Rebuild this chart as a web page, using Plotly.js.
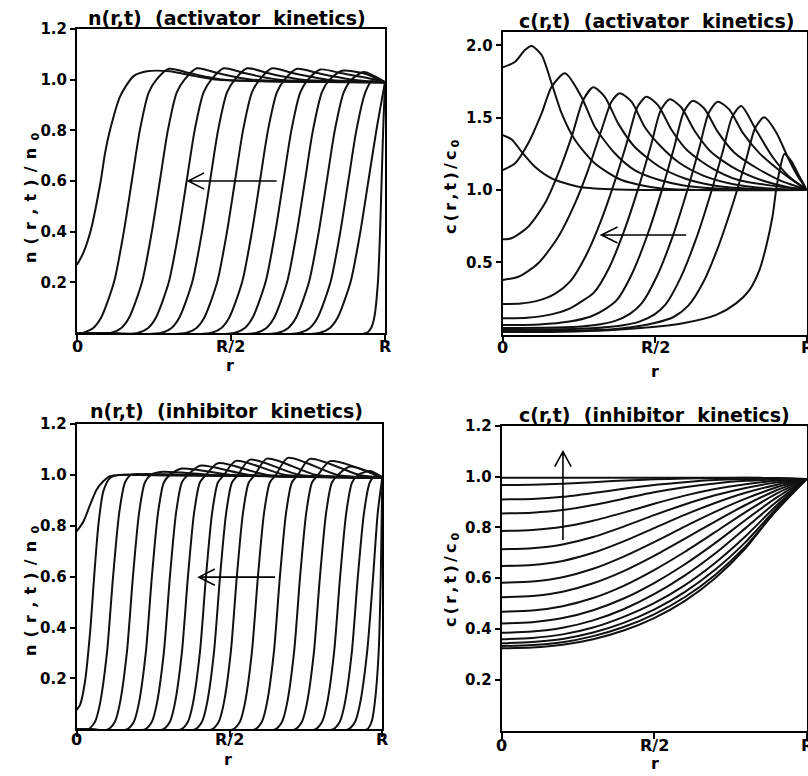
<!DOCTYPE html>
<html><head><meta charset="utf-8">
<script src="https://cdn.plot.ly/plotly-3.0.1.min.js"></script>
<style>html,body{margin:0;padding:0;background:#fff}#chart{width:808px;height:776px}</style>
</head><body><div id="chart"></div>
<script>
// ---------- data (r in units of R) ----------
const X_TICKVALS = [0, 0.5, 1];
const X_TICKTEXT = ['0', 'R/2', 'R'];

// Panel 1: n(r,t) activator kinetics
const nActFirstR = [0, 0.02, 0.045, 0.077, 0.091, 0.107, 0.140, 0.183, 0.227, 0.30, 0.38, 0.46];
const nActFirstV = [0.269, 0.315, 0.407, 0.6, 0.71, 0.80, 0.934, 1.013, 1.033, 1.033, 1.015, 1.0];
const nActLevels = [0, 0.02, 0.06, 0.2, 0.4, 0.6, 0.8, 0.95, 1.0, 1.04, 1.025, 1.0];
const nActFronts = [
  [0.018, 0.053, 0.078, 0.120, 0.152, 0.178, 0.204, 0.233, 0.258, 0.298, 0.368, 0.478],
  [0.109, 0.144, 0.169, 0.211, 0.243, 0.269, 0.295, 0.324, 0.349, 0.389, 0.459, 0.569],
  [0.196, 0.231, 0.256, 0.298, 0.330, 0.356, 0.382, 0.411, 0.436, 0.476, 0.546, 0.656],
  [0.272, 0.307, 0.332, 0.374, 0.406, 0.432, 0.458, 0.487, 0.512, 0.552, 0.622, 0.732],
  [0.353, 0.388, 0.413, 0.455, 0.487, 0.513, 0.539, 0.568, 0.593, 0.633, 0.703, 0.813],
  [0.434, 0.469, 0.494, 0.536, 0.568, 0.594, 0.620, 0.649, 0.674, 0.714, 0.784, 0.894],
  [0.510, 0.545, 0.570, 0.612, 0.644, 0.670, 0.696, 0.725, 0.750, 0.790, 0.860, 0.970],
  [0.580, 0.615, 0.640, 0.682, 0.714, 0.740, 0.766, 0.795, 0.820, 0.860, 0.930],
  [0.651, 0.686, 0.711, 0.753, 0.785, 0.811, 0.837, 0.866, 0.891, 0.931],
  [0.721, 0.756, 0.781, 0.823, 0.855, 0.881, 0.907, 0.936, 0.961],
  [0.786, 0.821, 0.846, 0.888, 0.920, 0.946, 0.972],
  [0.940, 0.955, 0.965, 0.977, 0.984, 0.989, 0.994]
];
const nActPeaks = [1.043, 1.045, 1.045, 1.045, 1.045, 1.043, 1.04, 1.035, 1.03, 1.0, 1.0, 1.0];

// Panel 2: c(r,t) activator kinetics, [r, c/c0] pairs per curve
const cActCurves = [
  [[0,1.38],[0.03,1.35],[0.062,1.265],[0.106,1.161],[0.161,1.081],[0.249,1.023],[0.358,1.005],[0.5,1.0],[1,1.0]],
  [[0,1.848],[0.041,1.887],[0.073,1.968],[0.095,1.996],[0.128,1.934],[0.161,1.738],[0.194,1.530],[0.238,1.346],[0.303,1.185],[0.391,1.069],[0.516,1.012],[0.65,1.0],[1,1.0]],
  [[0,1.138],[0.041,1.185],[0.084,1.323],[0.128,1.530],[0.161,1.714],[0.205,1.807],[0.259,1.645],[0.303,1.438],[0.369,1.254],[0.434,1.138],[0.516,1.069],[0.6,1.03],[0.75,1.005],[1,1.0]],
  [[0,0.659],[0.029,0.666],[0.084,0.746],[0.139,0.908],[0.183,1.115],[0.227,1.369],[0.265,1.622],[0.298,1.710],[0.336,1.645],[0.380,1.461],[0.434,1.299],[0.516,1.161],[0.6,1.08],[0.7,1.03],[0.85,1.005],[1,1.0]],
  [[0,0.378],[0.052,0.40],[0.117,0.493],[0.183,0.677],[0.238,0.908],[0.281,1.138],[0.325,1.415],[0.358,1.611],[0.385,1.669],[0.424,1.611],[0.467,1.438],[0.516,1.311],[0.58,1.19],[0.66,1.1],[0.76,1.04],[0.88,1.01],[1,1.0]],
  [[0,0.212],[0.06,0.215],[0.113,0.233],[0.173,0.284],[0.223,0.370],[0.273,0.542],[0.323,0.785],[0.373,1.086],[0.413,1.358],[0.443,1.573],[0.473,1.645],[0.511,1.587],[0.555,1.419],[0.609,1.271],[0.691,1.148],[0.773,1.071],[0.923,1.02],[1,1.005]],
  [[0,0.113],[0.08,0.117],[0.16,0.14],[0.22,0.18],[0.26,0.23],[0.30,0.29],[0.35,0.461],[0.40,0.719],[0.45,1.037],[0.49,1.324],[0.52,1.551],[0.550,1.627],[0.588,1.571],[0.632,1.408],[0.686,1.263],[0.768,1.144],[0.85,1.069],[0.94,1.02],[1,1.005]],
  [[0,0.066],[0.12,0.07],[0.22,0.09],[0.29,0.125],[0.34,0.18],[0.376,0.24],[0.426,0.423],[0.476,0.687],[0.526,1.013],[0.566,1.308],[0.596,1.540],[0.626,1.618],[0.664,1.562],[0.708,1.402],[0.762,1.26],[0.844,1.142],[0.92,1.06],[1,1.005]],
  [[0,0.045],[0.2,0.05],[0.3,0.065],[0.37,0.095],[0.42,0.145],[0.458,0.217],[0.508,0.405],[0.558,0.671],[0.608,1.0],[0.648,1.298],[0.678,1.533],[0.708,1.611],[0.746,1.556],[0.79,1.397],[0.844,1.257],[0.92,1.12],[0.96,1.06],[1,1.005]],
  [[0,0.035],[0.25,0.04],[0.38,0.06],[0.45,0.09],[0.50,0.14],[0.535,0.205],[0.585,0.391],[0.635,0.653],[0.685,0.978],[0.725,1.272],[0.755,1.504],[0.785,1.581],[0.834,1.415],[0.888,1.23],[0.943,1.092],[1,1.005]],
  [[0,0.025],[0.35,0.035],[0.45,0.06],[0.50,0.08],[0.561,0.12],[0.611,0.2],[0.661,0.365],[0.711,0.616],[0.761,0.927],[0.801,1.207],[0.831,1.429],[0.861,1.503],[0.9,1.4],[0.94,1.22],[0.97,1.1],[1,1.005]],
  [[0,0.018],[0.2,0.02],[0.35,0.03],[0.484,0.05],[0.593,0.078],[0.703,0.136],[0.768,0.216],[0.812,0.308],[0.845,0.446],[0.867,0.608],[0.888,0.815],[0.9,1.0],[0.915,1.17],[0.927,1.249],[0.95,1.2],[0.975,1.1],[1,1.005]]
];

// Panel 3: n(r,t) inhibitor kinetics
const nInhFirstR = [0, 0.022, 0.044, 0.065, 0.087, 0.109, 0.142, 0.2];
const nInhFirstV = [0.778, 0.817, 0.883, 0.942, 0.975, 0.995, 1.0, 1.0];
const nInhSecondR = [0, 0.011, 0.027, 0.044, 0.057, 0.071, 0.087, 0.109, 0.142, 0.2];
const nInhSecondV = [0.076, 0.096, 0.186, 0.384, 0.598, 0.804, 0.935, 0.988, 1.0, 1.0];
const nInhLevels = [0, 0.03, 0.1, 0.3, 0.6, 0.85, 0.97, 1.0, 1.0, 1.0];
const nInhFronts = [
  [0.037, 0.060, 0.076, 0.099, 0.119, 0.139, 0.158, 0.178, 0.217, 0.379],
  [0.102, 0.125, 0.141, 0.164, 0.184, 0.204, 0.223, 0.243, 0.282, 0.444],
  [0.164, 0.187, 0.203, 0.226, 0.246, 0.266, 0.285, 0.305, 0.344, 0.506],
  [0.223, 0.246, 0.262, 0.285, 0.305, 0.325, 0.344, 0.364, 0.403, 0.565],
  [0.282, 0.305, 0.321, 0.344, 0.364, 0.384, 0.403, 0.423, 0.462, 0.624],
  [0.341, 0.364, 0.380, 0.403, 0.423, 0.443, 0.462, 0.482, 0.521, 0.683],
  [0.387, 0.410, 0.426, 0.449, 0.469, 0.489, 0.508, 0.528, 0.567, 0.729],
  [0.442, 0.465, 0.481, 0.504, 0.524, 0.544, 0.563, 0.583, 0.622, 0.784],
  [0.511, 0.534, 0.550, 0.573, 0.593, 0.613, 0.632, 0.652, 0.691, 0.853],
  [0.583, 0.606, 0.622, 0.645, 0.665, 0.685, 0.704, 0.724, 0.763, 0.925],
  [0.649, 0.672, 0.688, 0.711, 0.731, 0.751, 0.770, 0.790, 0.829],
  [0.714, 0.737, 0.753, 0.776, 0.796, 0.816, 0.835, 0.855, 0.894],
  [0.780, 0.803, 0.819, 0.842, 0.862, 0.882, 0.901, 0.921, 0.960],
  [0.838, 0.861, 0.877, 0.900, 0.920, 0.940, 0.959, 0.979],
  [0.888, 0.911, 0.927, 0.950, 0.970, 0.985],
  [0.950, 0.965, 0.975, 0.988, 0.995]
];
const nInhPeaks = [1.003, 1.012, 1.025, 1.036, 1.046, 1.055, 1.06, 1.064, 1.067, 1.063, 1.054, 1.033, 1.015, 1.0, 1.0, 1.0];

// Panel 4: c(r,t) inhibitor kinetics, values on a common r grid
const cInhGrid = [0, 0.1, 0.2, 0.3, 0.4, 0.5, 0.6, 0.7, 0.8, 0.9, 1.0];
const cInhCurves = [
  [0.995, 0.995, 0.995, 0.995, 0.995, 0.995, 0.995, 0.995, 0.995, 0.993, 0.99],
  [0.967, 0.968, 0.972, 0.978, 0.984, 0.989, 0.992, 0.994, 0.995, 0.994, 0.99],
  [0.910, 0.912, 0.920, 0.935, 0.952, 0.967, 0.978, 0.986, 0.990, 0.992, 0.99],
  [0.855, 0.858, 0.868, 0.888, 0.913, 0.938, 0.958, 0.973, 0.983, 0.988, 0.99],
  [0.786, 0.790, 0.802, 0.826, 0.858, 0.893, 0.925, 0.951, 0.970, 0.983, 0.99],
  [0.714, 0.718, 0.733, 0.762, 0.803, 0.848, 0.890, 0.926, 0.955, 0.976, 0.99],
  [0.648, 0.652, 0.668, 0.700, 0.745, 0.797, 0.849, 0.896, 0.936, 0.967, 0.99],
  [0.582, 0.587, 0.604, 0.637, 0.685, 0.742, 0.803, 0.861, 0.913, 0.957, 0.99],
  [0.525, 0.530, 0.547, 0.580, 0.628, 0.688, 0.755, 0.823, 0.888, 0.945, 0.99],
  [0.468, 0.473, 0.490, 0.522, 0.570, 0.632, 0.703, 0.781, 0.860, 0.932, 0.99],
  [0.422, 0.427, 0.443, 0.474, 0.520, 0.581, 0.654, 0.738, 0.829, 0.916, 0.99],
  [0.385, 0.390, 0.405, 0.434, 0.478, 0.537, 0.610, 0.697, 0.797, 0.899, 0.99],
  [0.360, 0.365, 0.379, 0.406, 0.448, 0.502, 0.572, 0.660, 0.765, 0.884, 0.99],
  [0.344, 0.349, 0.361, 0.386, 0.424, 0.476, 0.545, 0.633, 0.742, 0.872, 0.99],
  [0.333, 0.337, 0.348, 0.372, 0.408, 0.458, 0.525, 0.613, 0.725, 0.864, 0.99],
  [0.324, 0.327, 0.338, 0.360, 0.394, 0.443, 0.510, 0.600, 0.718, 0.868, 0.99]
];

// ---------- build traces ----------
const LINE = {color: '#111', width: 2, shape: 'spline', smoothing: 0.7};
const traces = [];
function add(x, y, ax) {
  traces.push({x: x, y: y, type: 'scatter', mode: 'lines', line: LINE,
    xaxis: 'x' + ax, yaxis: 'y' + ax, hoverinfo: 'skip', showlegend: false});
}
function addFronts(fronts, levels, peaks, peakIdx, ax) {
  fronts.forEach((rs, i) => {
    const lv = levels.slice(0, rs.length);
    if (lv.length > peakIdx) lv[peakIdx] = peaks[i];
    add([0].concat(rs, [1]), [0].concat(lv, [0.99]), ax);
  });
}
add(nActFirstR.concat([1]), nActFirstV.concat([0.99]), '');
addFronts(nActFronts, nActLevels, nActPeaks, 9, '');
cActCurves.forEach(c => add(c.map(p => p[0]), c.map(p => p[1]), '2'));
add(nInhFirstR.concat([1]), nInhFirstV.concat([0.99]), '3');
add(nInhSecondR.concat([1]), nInhSecondV.concat([0.99]), '3');
addFronts(nInhFronts, nInhLevels, nInhPeaks, 8, '3');
cInhCurves.forEach(v => add(cInhGrid, v, '4'));

// ---------- layout ----------
const W = 808, H = 776;
const px = v => v / W, py = v => 1 - v / H;
const FAM = 'DejaVu Sans, Arial, sans-serif';
const TICKFONT = {family: FAM, size: 15, color: '#000', weight: 'bold'};
function xa(d0, d1, anchor) {
  return {domain: [px(d0), px(d1)], anchor: anchor, range: [0, 1], tickvals: X_TICKVALS, showticklabels: false,
    ticks: 'outside', ticklen: 6, tickwidth: 2, tickcolor: '#000', showline: true, mirror: true,
    linewidth: 2, linecolor: '#000', showgrid: false, zeroline: false, fixedrange: true};
}
function ya(top, bottom, range, tv, tt, anchor) {
  return {domain: [py(bottom), py(top)], anchor: anchor, range: range, tickvals: tv, ticktext: tt,
    ticks: 'outside', ticklen: 5, tickwidth: 2, tickcolor: '#000', showline: true, mirror: true,
    linewidth: 2, linecolor: '#000', showgrid: false, zeroline: false, tickfont: TICKFONT, fixedrange: true};
}
const yT = [0.2, 0.4, 0.6, 0.8, 1.0, 1.2], yTT = ['0.2', '0.4', '0.6', '0.8', '1.0', '1.2'];

function ann(text, x, y, size, angle) {
  return {text: text, x: px(x), y: py(y), xref: 'paper', yref: 'paper', showarrow: false,
    textangle: angle || 0, font: {family: FAM, size: size, color: '#000', weight: 'bold'},
    xanchor: 'center', yanchor: 'middle'};
}
const SP = '\u00A0\u00A0';
const GAP_N = '\u2005\u2009', GAP_C = '\u2009';
const spaced = (chars, gap) => chars.join(gap);
const nLabel = spaced(['n', '(', 'r', ',', 't', ')', '/', 'n'], GAP_N) + GAP_N + '<sub>0</sub>';
const cLabel = spaced(['c', '(', 'r', ',', 't', ')', '/', 'c'], GAP_C) + GAP_C + '<sub>0</sub>';
const annotations = [
  ann('n(r,t)' + SP + '(activator' + SP + 'kinetics)', 226.7, 18, 19),
  ann('c(r,t)' + SP + '(activator' + SP + 'kinetics)', 656, 20.7, 19),
  ann('n(r,t)' + SP + '(inhibitor' + SP + 'kinetics)', 226.7, 410.7, 19),
  ann('c(r,t)' + SP + '(inhibitor' + SP + 'kinetics)', 654, 415, 19),
  ann(nLabel, 31, 198, 16, -90),
  ann(cLabel, 451, 187, 16, -90),
  ann(nLabel, 31, 591, 16, -90),
  ann(cLabel, 451, 580, 16, -90),
  ann('r', 230, 365, 16), ann('r', 655, 371, 16), ann('r', 228, 759, 16), ann('r', 655, 763, 16)
];
// x tick labels (0, R/2, R) just under each panel
[[77, 385, 346.5], [502.7, 807.3, 347.5], [76.7, 382.3, 739], [501.7, 808, 745]].forEach(p => {
  X_TICKVALS.forEach((t, i) => {
    const xpx = i === 2 && p[1] > 800 ? 807 : p[0] + t * (p[1] - p[0]);
    annotations.push(ann(X_TICKTEXT[i], xpx, p[2], 16));
  });
});

function hArrow(xr, yr, x1, x2, y, dx, dy) {
  return {type: 'path', xref: xr, yref: yr, line: {color: '#000', width: 1.6},
    path: `M${x1},${y} L${x2},${y} M${x2 + dx},${y + dy} L${x2},${y} L${x2 + dx},${y - dy}`};
}
const shapes = [
  hArrow('x', 'y', 0.648, 0.361, 0.6, 0.052, 0.032),
  hArrow('x2', 'y2', 0.604, 0.325, 0.689, 0.053, 0.055),
  hArrow('x3', 'y3', 0.649, 0.400, 0.598, 0.052, 0.032),
  {type: 'path', xref: 'x4', yref: 'y4', line: {color: '#000', width: 1.6},
    path: 'M0.201,0.75 L0.201,1.098 M0.174,1.039 L0.201,1.098 L0.228,1.039'}
];

const layout = {
  width: W, height: H, margin: {l: 0, r: 0, t: 0, b: 0},
  paper_bgcolor: '#fff', plot_bgcolor: '#fff', showlegend: false,
  xaxis: xa(77, 385, 'y'), yaxis: ya(29, 333, [0, 1.2], yT, yTT, 'x'),
  xaxis2: xa(502.7, 806.5, 'y2'), yaxis2: ya(31.7, 334.6, [0, 2.095], [0.5, 1.0, 1.5, 2.0], ['0.5', '1.0', '1.5', '2.0'], 'x2'),
  xaxis3: xa(76.7, 382.3, 'y3'), yaxis3: ya(424, 729.3, [0, 1.2], yT, yTT, 'x3'),
  xaxis4: xa(501.7, 806.5, 'y4'), yaxis4: ya(425.7, 730.7, [0, 1.2], yT, yTT, 'x4'),
  annotations: annotations, shapes: shapes
};
Plotly.newPlot('chart', traces, layout, {staticPlot: true, displayModeBar: false});
</script></body></html>
